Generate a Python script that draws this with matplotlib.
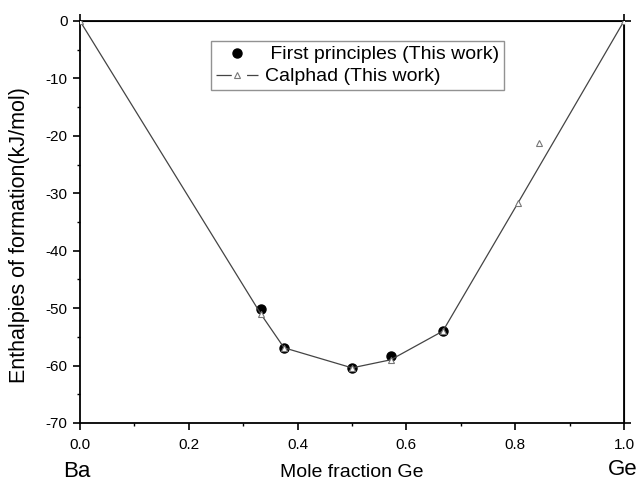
import numpy as np
import matplotlib.pyplot as plt
from matplotlib.lines import Line2D
from matplotlib.ticker import MultipleLocator

plt.rcParams['font.family'] = ['Liberation Sans', 'DejaVu Sans']
plt.rcParams['axes.unicode_minus'] = False
plt.rcParams['lines.scale_dashes'] = False

# first principles points
fp_x = [0.333, 0.375, 0.5, 0.571, 0.667]
fp_y = [-50.2, -56.9, -60.4, -58.3, -54.0]

# calphad line (connected)
cal_x = [0.0, 0.333, 0.375, 0.5, 0.571, 0.667, 0.805, 1.0]
cal_y = [0.0, -51.1, -56.9, -60.4, -59.0, -54.0, -31.7, 0.0]

# extra calphad point (not on hull)
extra_x = [0.843]
extra_y = [-21.2]

W, H = 640, 482
fig = plt.figure(figsize=(6.4, 4.82), dpi=100)
ax = fig.add_axes([80 / W, 1 - 423 / H, 544 / W, 402 / H])

ax.plot(fp_x, fp_y, 'o', color='black', markersize=6.5, zorder=3)
ax.plot(cal_x, cal_y, '-', color='#444444', linewidth=0.9, marker='^',
        markersize=5, markerfacecolor='white', markeredgecolor='#777777',
        markeredgewidth=0.8, zorder=4)
ax.plot(extra_x, extra_y, '^', markersize=5, markerfacecolor='white',
        markeredgecolor='#777777', markeredgewidth=0.8, zorder=4)

ax.set_xlim(0, 1)
ax.set_ylim(-70, 0)
ax.xaxis.set_major_locator(MultipleLocator(0.2))
ax.xaxis.set_minor_locator(MultipleLocator(0.1))
ax.yaxis.set_major_locator(MultipleLocator(10))
ax.yaxis.set_minor_locator(MultipleLocator(5))
ax.tick_params(which='major', direction='out', length=5, width=1.2, labelsize=11, pad=4)
ax.tick_params(axis='x', which='major', pad=5.5)
ax.tick_params(which='minor', direction='out', length=2.5, width=1.0)
for s in ax.spines.values():
    s.set_linewidth(1.3)

# corner ticks on top / right axes
top = ax.secondary_xaxis('top')
top.set_xticks([0, 1])
top.tick_params(direction='out', length=5, width=1.2, labeltop=False)
right = ax.secondary_yaxis('right')
right.set_yticks([-70, 0])
right.tick_params(direction='out', length=5, width=1.2, labelright=False)

fig.text(20 / W, 1 - 235 / H, 'Enthalpies of formation(kJ/mol)', fontsize=15.5,
         rotation=90, ha='center', va='center')
fig.text(352 / W, 1 - 477 / H, 'Mole fraction Ge', fontsize=14, ha='center', va='baseline')
fig.text(77 / W, 1 - 477 / H, 'Ba', fontsize=16, ha='center', va='baseline')
fig.text(623 / W, 1 - 475 / H, 'Ge', fontsize=16, ha='center', va='baseline')

h_fp = Line2D([], [], linestyle='none', marker='o', color='black', markersize=6.5)
h_cal = Line2D([], [], color='#444444', linewidth=0.9, linestyle=(0, (11, 11)),
               marker='^', markersize=5, markerfacecolor='white',
               markeredgecolor='#777777', markeredgewidth=0.8)
leg = ax.legend([h_fp, h_cal], [' First principles (This work)', 'Calphad (This work)'],
                loc='upper left', bbox_to_anchor=(211 / W, 1 - 41 / H),
                bbox_transform=fig.transFigure, fontsize=14, numpoints=1,
                frameon=True, fancybox=False, edgecolor='#777777',
                borderpad=0.25, borderaxespad=0, handlelength=2.16,
                handletextpad=0.36, labelspacing=0.22)
leg.get_frame().set_linewidth(1.0)

fig.savefig('out.png', dpi=100)
